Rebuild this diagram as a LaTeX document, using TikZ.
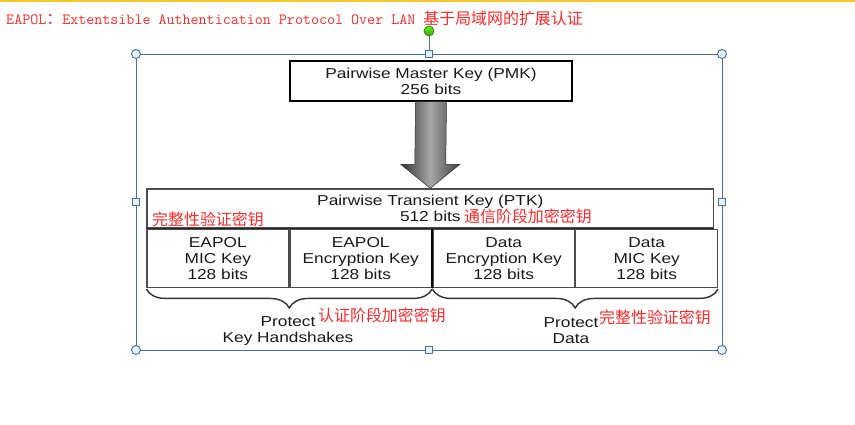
\documentclass[tikz,border=0pt]{standalone}
\usepackage{fontspec}
\usepackage{tikz}
\usetikzlibrary{positioning,calc}
\usetikzlibrary{decorations.pathreplacing}
\newfontfamily\keyfont[FakeStretch=1.2]{Liberation Sans}
\newfontfamily\cjk{Noto Sans CJK SC}
\definecolor{notered}{RGB}{255,40,40}
\definecolor{selblue}{RGB}{74,112,160}
\definecolor{handlefill}{RGB}{228,242,250}
\definecolor{rotgreen}{RGB}{96,190,40}
\definecolor{topyellow}{RGB}{245,200,40}
\tikzstyle{keytext}=[font={\keyfont\fontsize{12.3}{13.7}\selectfont}, align=center, inner sep=0pt, text=black!90]
\tikzstyle{note}=[font={\cjk\fontsize{13.6}{15}\selectfont}, text=notered, inner sep=0pt, anchor=west]
\tikzstyle{pmkbox}=[keytext, draw=black, line width=0.9pt, minimum width=8.46cm, minimum height=1.2cm]
\tikzstyle{ptkbox}=[keytext, draw=black!70, line width=1.1pt, minimum width=17cm, minimum height=1.17cm]
\tikzstyle{cell}=[keytext, draw=black!70, line width=1.1pt, minimum width=4.25cm, minimum height=1.74cm]
\tikzstyle{handbrace}=[decorate, decoration={brace, mirror, amplitude=0.57cm}, line width=1.2pt, black!80]
\tikzstyle{sel}=[selblue, line width=0.8pt]

\begin{document}
\begin{tikzpicture}[x=0.03cm, y=-0.03cm]
\useasboundingbox (0,0) rectangle (855,425);
\fill[topyellow] (0,0) rectangle (855,2);
% title line
\node[anchor=west, inner sep=0pt, text=notered] (title) at (6,18)
  {\fontsize{13.3}{15}\selectfont\ttfamily EAPOL{\cjk\fontsize{13.6}{15}\selectfont ：}Extentsible Authentication Protocol Over LAN {\cjk\fontsize{13.6}{15}\selectfont 基于局域网的扩展认证}};
% selection frame
\draw[sel] (136,54) rectangle (722,350);
\draw[sel] (429,36) -- (429,54);
\foreach \p in {(136,54),(722,54),(136,350),(722,350)}
  \draw[sel, fill=handlefill] \p circle (0.135cm);
\foreach \p in {(429,54),(429,350),(136,202),(722,202)}
  \draw[sel, fill=handlefill] \p ++(-3.5,-3.5) rectangle ++(7,7);
\shade[top color=green!70!yellow, bottom color=rotgreen!80!black, draw=rotgreen!60!black, line width=0.6pt] (429,31) circle (0.15cm);

% keys
\node[pmkbox] (pmk) at (431,81) {Pairwise Master Key (PMK)\\256 bits};
\draw[line width=1.6pt] (pmk.north east) -- (pmk.south east) -- (pmk.south west);
\node[ptkbox] (ptk) at (430.3,208.5) {Pairwise Transient Key (PTK)\\512 bits};
\node[cell, anchor=north west] (c1) at (ptk.south west) {EAPOL\\MIC Key\\128 bits};
\node[cell, right=0pt of c1] (c2) {EAPOL\\Encryption Key\\128 bits};
\node[cell, right=0pt of c2] (c3) {Data\\Encryption Key\\128 bits};
\node[cell, right=0pt of c3] (c4) {Data\\MIC Key\\128 bits};
\draw[line width=1.3pt, black] (c2.north east) -- (c2.south east);
\draw[line width=1.3pt, black!85] (ptk.south west) -- (ptk.south east);

% PMK -> PTK
\shade[left color=black!80, right color=black!75, middle color=black!35, draw=black!85, line width=0.4pt]
  ($(pmk.south)+(-15.5,0)$) -- ($(pmk.south)+(15.5,0)$) -- ($(ptk.north)+(15.5,-24)$)
  -- ($(ptk.north)+(29.5,-24)$) -- (ptk.north) -- ($(ptk.north)+(-29.5,-24)$)
  -- ($(ptk.north)+(-15.5,-24)$) -- cycle;

% braces
\draw[handbrace] ($(c1.south west)+(0,1)$) -- ($(c2.south east)+(0,1)$);
\draw[handbrace] ($(c3.south west)+(0,1)$) -- ($(c4.south east)+(0,1)$);
\node[keytext] (hs) at (288,331) {Protect\\Key Handshakes};
\node[keytext] (dt) at (571,331) {Protect\\Data};

% notes
\node[note] (n1) at (152,219) {完整性验证密钥};
\node[note] (n2) at (464,216) {通信阶段加密密钥};
\node[note] (n3) at (318,315) {认证阶段加密密钥};
\node[note] (n4) at (599,317) {完整性验证密钥};
\end{tikzpicture}
\end{document}
